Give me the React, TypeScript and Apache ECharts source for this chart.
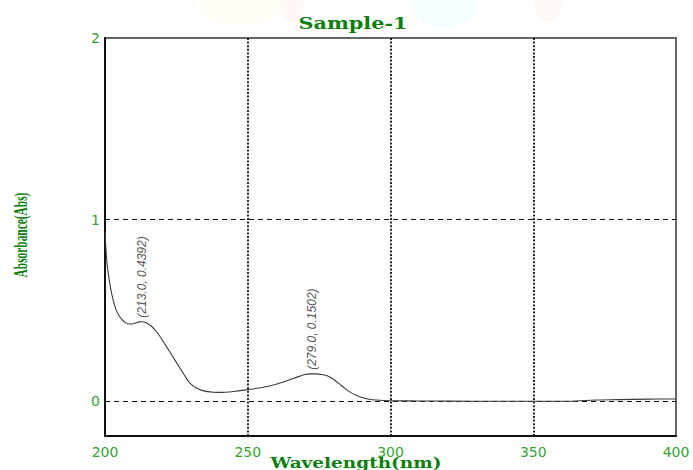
import React, { useEffect, useRef } from "react";
import * as echarts from "echarts";

// ---- data ----
const wavelength = [
  200, 200.5, 201, 202, 203, 204, 205, 206, 207, 208, 209, 210, 211, 212, 213, 214, 215, 216, 218, 220,
  222, 224, 226, 228, 229, 230, 232, 234, 236, 238, 240, 242, 245, 250, 255, 260, 264, 268, 270, 272,
  274, 276, 278, 280, 282, 284, 286, 288, 290, 292, 295, 300, 310, 320, 340, 360, 365, 372, 380, 390, 400,
];
const absorbance = [
  0.93, 0.8, 0.72, 0.62, 0.55, 0.5, 0.47, 0.45, 0.435, 0.428, 0.426, 0.428, 0.433, 0.438, 0.439, 0.436, 0.428, 0.418, 0.385, 0.34,
  0.29, 0.24, 0.19, 0.14, 0.116, 0.097, 0.074, 0.061, 0.054, 0.051, 0.05, 0.051, 0.055, 0.065, 0.077, 0.095, 0.115, 0.138, 0.148, 0.152,
  0.152, 0.148, 0.14, 0.122, 0.098, 0.072, 0.05, 0.034, 0.022, 0.014, 0.008, 0.004, 0.003, 0.002, 0.001, 0.001, 0.003, 0.008, 0.01, 0.013, 0.014,
];
const peakWavelength = [213, 272.6];
const peakAbsorbance = [0.439, 0.152];
const peakLabels = ["(213.0, 0.4392)", "(279.0, 0.1502)"];
const yTickValues = [0, 1, 2];
const yGridValues = [0, 1];
const xTickInterval = 50;

const titleText = "Sample-1";
const xName = "Wavelength(nm)";
const yName = "Absorbance(Abs)";

const darkGreen = "#0b7f0b";
const tickGreen = "#35a235";

export default function App() {
  const ref = useRef<HTMLDivElement>(null);
  useEffect(() => {
    document.body.style.margin = "0";
    const chart = echarts.init(ref.current!, null, { renderer: "svg" });
    const lineData = wavelength.map((w, i) => [w, absorbance[i]]);
    const peakData = peakWavelength.map((w, i) => ({ name: peakLabels[i], value: [w, peakAbsorbance[i]] }));
    chart.setOption({
      animation: false,
      backgroundColor: "#ffffff",
      grid: {
        left: 105,
        right: 17,
        top: 38,
        bottom: 34,
        containLabel: false,
        outerBoundsMode: "none",
        show: true,
        borderColor: "#666",
        borderWidth: 2,
        backgroundColor: "transparent",
      },
      xAxis: {
        type: "value",
        min: 200,
        max: 400,
        interval: xTickInterval,
        axisLine: { show: true, onZero: false, lineStyle: { color: "#111", width: 2 } },
        axisTick: { show: false },
        axisLabel: {
          color: tickGreen,
          fontFamily: "DejaVu Sans",
          fontSize: 14,
          margin: 9,
          showMinLabel: true,
          showMaxLabel: true,
        },
        splitLine: {
          show: true,
          showMinLine: false,
          showMaxLine: false,
          lineStyle: { color: "#111", width: 1.8, type: [2, 1.6] },
        },
      },
      yAxis: {
        type: "value",
        min: -0.19,
        max: 2,
        axisLine: { show: true, onZero: false, lineStyle: { color: "#111", width: 2 } },
        axisTick: { show: false },
        axisLabel: {
          customValues: yTickValues,
          color: tickGreen,
          fontFamily: "DejaVu Sans",
          fontSize: 14,
          margin: 5,
          verticalAlign: "middle",
          padding: [0, 0, 10, 0],
        },
        splitLine: { show: false },
      },
      graphic: [
        { type: "ellipse", shape: { cx: 240, cy: 6, rx: 40, ry: 20 }, style: { fill: "rgba(255,225,140,0.08)" }, z: -10 },
        { type: "ellipse", shape: { cx: 292, cy: 6, rx: 12, ry: 16 }, style: { fill: "rgba(255,170,120,0.08)" }, z: -10 },
        { type: "ellipse", shape: { cx: 445, cy: 6, rx: 32, ry: 22 }, style: { fill: "rgba(120,230,255,0.08)" }, z: -10 },
        { type: "ellipse", shape: { cx: 548, cy: 6, rx: 14, ry: 16 }, style: { fill: "rgba(255,180,140,0.08)" }, z: -10 },
        {
          type: "text",
          x: 353,
          y: 23,
          scaleX: 1.22,
          style: {
            text: titleText,
            fill: darkGreen,
            font: 'bold 17px "DejaVu Serif"',
            align: "center",
            verticalAlign: "middle",
          },
        },
        {
          type: "text",
          x: 356,
          y: 463,
          scaleX: 1.32,
          style: {
            text: xName,
            fill: darkGreen,
            font: 'bold 14px "DejaVu Serif"',
            align: "center",
            verticalAlign: "middle",
          },
        },
        {
          type: "text",
          x: 20,
          y: 235,
          rotation: Math.PI / 2,
          scaleX: 0.6,
          style: {
            text: yName,
            fill: darkGreen,
            font: 'bold 19px "Liberation Serif"',
            align: "center",
            verticalAlign: "middle",
          },
        },
      ],
      series: [
        {
          type: "line",
          data: lineData,
          showSymbol: false,
          smooth: 0.3,
          lineStyle: { color: "#3a3a3a", width: 1.1 },
          z: 5,
          markLine: {
            silent: true,
            symbol: "none",
            label: { show: false },
            lineStyle: { color: "#111", width: 1, type: [5, 4] },
            data: yGridValues.map((v) => ({ yAxis: v })),
          },
        },
        {
          type: "scatter",
          data: peakData,
          symbolSize: 0,
          silent: true,
          label: {
            show: true,
            formatter: (p: any) => p.name,
            position: "top",
            distance: 4,
            rotate: 90,
            align: "left",
            verticalAlign: "middle",
            color: "#222",
            fontFamily: '"Liberation Sans Narrow", "Liberation Sans"',
            fontStyle: "italic",
            fontSize: 12,
          },
          z: 6,
        },
      ],
    });
    return () => chart.dispose();
  }, []);
  return <div ref={ref} style={{ width: 693, height: 470 }} />;
}
